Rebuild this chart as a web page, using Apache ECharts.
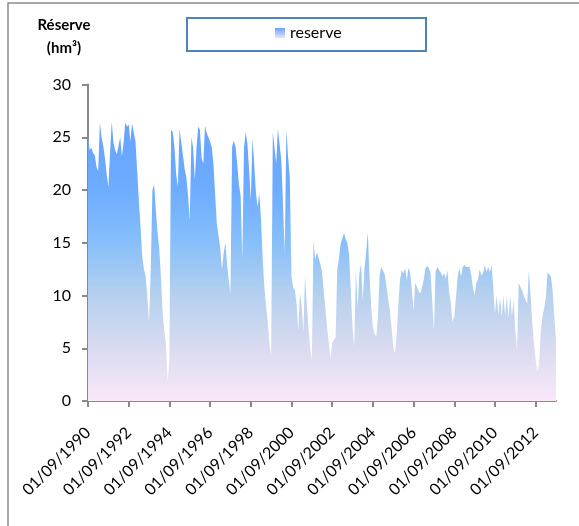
<!DOCTYPE html>
<html><head><meta charset="utf-8">
<script src="https://cdn.jsdelivr.net/npm/echarts@6/dist/echarts.min.js"></script>
<style>html,body{margin:0;padding:0;background:#fff}#c{width:579px;height:526px}</style>
</head><body><div id="c"></div>
<script>
// monthly values starting 01/09/1990 (index = months since start)
const startYear = 1990;
const tickYears = [1990, 1992, 1994, 1996, 1998, 2000, 2002, 2004, 2006, 2008, 2010, 2012];
const seriesName = 'reserve';
const reserve1990_1996 = [
  25.0, 23.8, 24.0, 23.5, 23.3, 22.2, 21.8, 26.4, 25.0, 24.2, 23.0, 21.5,
  20.3, 23.5, 26.5, 24.5, 23.8, 23.4, 24.2, 25.0, 23.2, 24.5, 26.4, 26.0,
  26.2, 24.6, 26.3, 26.3, 24.6, 21.8, 19.0, 16.5, 13.7, 12.5, 11.8, 9.9,
  7.4, 12.4, 20.0, 20.5, 18.1, 16.0, 14.5, 11.8, 8.5, 6.7, 5.3, 1.8,
  3.9, 25.7, 25.5, 24.0, 21.5, 20.3, 25.8, 24.5, 23.3, 22.0, 21.2, 19.5,
  17.1, 25.0, 24.0, 21.0, 24.0, 26.0, 25.7, 23.0, 22.5, 26.1, 25.4, 25.0,
  24.6
];
const reserve1996_2002 = [
  24.0, 22.5, 19.5, 16.8, 16.7, 14.5, 12.5, 14.0, 15.0, 13.0, 11.5, 10.2,
  24.1, 24.7, 24.1, 22.5, 20.5, 19.5, 13.4, 24.0, 25.5, 24.4, 22.0, 19.0,
  24.9, 22.5, 19.8, 18.4, 19.7, 17.3, 13.6, 10.8, 9.0, 7.5, 5.5, 4.3,
  25.5, 24.0, 22.5, 25.8, 25.7, 22.8, 18.7, 14.0, 25.7, 23.1, 21.2, 11.8,
  10.8, 10.5, 9.3, 6.7, 10.2, 9.0, 6.6, 11.8, 9.3, 7.0, 5.0, 3.9,
  15.2, 13.4, 14.1, 14.0, 13.0, 12.2, 10.5, 8.8, 7.0, 5.5, 4.0, 5.5
];
const reserve2002_2008 = [
  5.8, 6.0, 12.5, 13.5, 14.9, 15.4, 15.9, 15.3, 15.0, 13.8, 10.5, 7.0,
  5.1, 12.4, 8.9, 12.0, 13.0, 9.5, 12.5, 14.0, 16.0, 12.0, 9.0, 7.0,
  6.4, 6.1, 8.0, 12.0, 12.7, 12.7, 12.0, 10.9, 9.7, 8.6, 7.0, 5.2,
  4.5, 6.2, 9.0, 11.5, 12.4, 12.1, 12.6, 11.5, 12.6, 12.2, 10.5, 8.6,
  11.2, 10.8, 10.4, 10.2, 10.8, 11.5, 12.6, 12.8, 12.6, 12.1, 9.5, 6.7,
  12.3, 12.7, 12.4, 12.2, 11.8, 12.1, 11.6, 12.4, 10.3, 9.2, 7.5, 8.0
];
const reserve2008_2013 = [
  9.8, 11.8, 12.6, 11.8, 12.7, 12.9, 12.7, 12.7, 12.7, 12.0, 10.7, 10.0,
  11.2, 11.5, 12.5, 11.9, 12.1, 12.9, 12.2, 12.7, 12.2, 12.9, 10.8, 8.3,
  10.0, 8.2, 9.8, 8.0, 10.0, 8.1, 9.9, 7.9, 10.0, 8.0, 9.6, 6.7,
  4.8, 11.2, 10.8, 10.5, 10.0, 9.6, 9.2, 12.4, 10.0, 7.4, 5.5, 3.9,
  2.8, 3.5, 6.5, 8.0, 8.8, 9.8, 12.2, 12.2, 11.8, 10.5, 8.0, 5.8
];
const reserve = [].concat(reserve1990_1996, reserve1996_2002, reserve2002_2008, reserve2008_2013);
const points = reserve.map((v, i) => [i, v]);
const tickMonths = tickYears.map(y => (y - startYear) * 12);

const chart = echarts.init(document.getElementById('c'), null, {renderer: 'canvas'});
const grad = new echarts.graphic.LinearGradient(0, 0, 0, 1, [
  {offset: 0, color: '#66a3ff'},
  {offset: 0.25, color: '#6eacff'},
  {offset: 0.43, color: '#86bffa'},
  {offset: 0.62, color: '#b5d0ee'},
  {offset: 0.81, color: '#d9dbf0'},
  {offset: 1, color: '#f9e8f8'}
]);
const iconGrad = new echarts.graphic.LinearGradient(0, 0, 0, 1, [
  {offset: 0, color: '#66a3ff'},
  {offset: 1, color: '#e6e4f5'}
]);
const font = 'Lato, "Open Sans", sans-serif';
chart.setOption({
  animation: false,
  backgroundColor: '#fff',
  textStyle: {fontFamily: font},
  grid: {left: 88, top: 84.5, right: 23, bottom: 125, containLabel: false},
  legend: {
    left: 275, top: 25, padding: 0,
    itemWidth: 10, itemHeight: 10,
    textStyle: {fontSize: 16, color: '#000', fontFamily: font},
    data: [{name: seriesName, icon: 'rect', itemStyle: {color: iconGrad}}]
  },
  xAxis: {
    type: 'value', min: 0, max: reserve.length - 1,
    splitLine: {show: false},
    axisLine: {onZero: false, lineStyle: {color: '#8a8a8a', width: 2}},
    axisTick: {show: true, length: 6, customValues: tickMonths, lineStyle: {color: '#8a8a8a', width: 2}},
    axisLabel: {
      customValues: tickMonths, rotate: 45, margin: 29,
      fontSize: 16, color: '#000', fontFamily: font,
      formatter: v => '01/09/' + (startYear + Math.round(v / 12))
    }
  },
  yAxis: {
    type: 'value', min: 0, max: 30, interval: 5,
    splitLine: {show: false},
    axisLine: {show: true, lineStyle: {color: '#8a8a8a', width: 2}},
    axisTick: {show: true, length: 6, lineStyle: {color: '#8a8a8a', width: 2}},
    axisLabel: {margin: 17, fontSize: 16, color: '#000', fontFamily: font}
  },
  graphic: [
    {type: 'polyline', silent: true, shape: {points: [[8, 526], [8, 3], [579, 3]]},
      style: {stroke: '#8c8c8c', lineWidth: 1.5, fill: null}},
    {type: 'rect', silent: true, z: -1, shape: {x: 187, y: 18, width: 239, height: 33},
      style: {stroke: '#4f81bd', lineWidth: 2, fill: '#fff'}},
    {type: 'text', silent: true, x: 64, y: 14,
      style: {text: 'Réserve\n(hm³)', align: 'center', verticalAlign: 'top',
        font: 'bold 15px ' + font, lineHeight: 23, fill: '#000'}}
  ],
  series: [{
    name: seriesName, type: 'line', data: points,
    symbol: 'none', showSymbol: false,
    lineStyle: {width: 0, opacity: 0},
    areaStyle: {color: grad, opacity: 1},
    itemStyle: {color: iconGrad}
  }]
});
</script></body></html>
